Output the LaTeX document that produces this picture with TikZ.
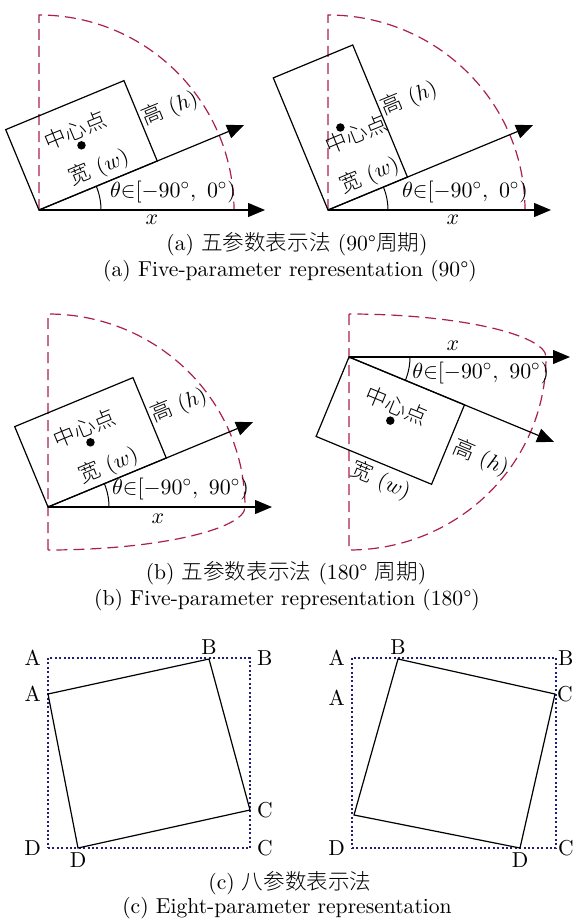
\documentclass[tikz,border=0pt]{standalone}
\usepackage{fontspec}
\usepackage{tikz}
\usetikzlibrary{arrows.meta,calc}
\newfontfamily\zhfont{Noto Sans CJK SC Light}
\definecolor{RangeRed}{HTML}{AA2048}
\definecolor{GridNavy}{HTML}{1F1F7A}

\begin{document}
\begin{tikzpicture}[x=0.5pt, y=0.5pt, font=\fontsize{10.8}{13}\selectfont,
    axisarrow/.style={line width=0.6pt, -{Triangle[length=8.5pt,width=7pt]}},
    rangeline/.style={RangeRed, line width=0.6pt, dash pattern=on 5.5pt off 3pt},
    bbox/.style={draw, line width=0.6pt, inner sep=0pt, outer sep=0pt},
    hbox/.style={draw, GridNavy, line width=0.6pt, dash pattern=on 1pt off 1.2pt, inner sep=0pt, outer sep=0pt},
    quadline/.style={line width=0.6pt},
    ctrdot/.style={circle, fill, inner sep=1.5pt}]
    \useasboundingbox (0,0) rectangle (573,-920);

    % (a) left
    \coordinate (aLO) at (39,-210);
    \coordinate (aLX) at ($(aLO)+(226,0)$);
    \coordinate (aLW) at ($(aLO)+(22.5:222)$);
    \draw [rangeline] (aLO) -- ++(0,195) arc (90:0:195);
    \node (aLBox) [bbox, rotate=22.5, minimum width=64pt, minimum height=43.5pt, anchor=south west] at (aLO) {};
    \draw [axisarrow] (aLO) -- node (aLx) [below, inner sep=2pt] {$x$} (aLX);
    \draw [axisarrow] (aLO) -- (aLW);
    \draw [line width=0.5pt] ($(aLO)+(62,0)$) arc (0:22.5:62);
    \node (aLC) [ctrdot] at (aLBox.center) {};
    \node (aLMid) [rotate=22.5, anchor=south, inner sep=3pt] at (aLBox.center) {\zhfont 中心点};
    \node (aLw) [rotate=22.5, anchor=south, inner sep=2pt] at ($(aLBox.south)!0.12!(aLBox.south east)$) {{\zhfont 宽} ($w$)};
    \node (aLh) [rotate=22.5, anchor=west, inner sep=1pt] at (aLBox.east) {{\zhfont 高} ($h$)};
    \node (aLT) [anchor=south west] at ($(aLO)+(64,0)$) {$\theta{\in}[-90^\circ,\ 0^\circ)$};

    % (a) right
    \coordinate (aRO) at (328,-210);
    \coordinate (aRX) at ($(aRO)+(223,0)$);
    \coordinate (aRW) at ($(aRO)+(22.5:222)$);
    \draw [rangeline] (aRO) -- ++(0,195) arc (90:0:197 and 195);
    \node (aRBox) [bbox, rotate=22.5, minimum width=43pt, minimum height=71.5pt, anchor=south west] at (aRO) {};
    \draw [axisarrow] (aRO) -- node (aRx) [below, inner sep=2pt, pos=0.56] {$x$} (aRX);
    \draw [axisarrow] (aRO) -- (aRW);
    \draw [line width=0.5pt] ($(aRO)+(60,0)$) arc (0:22.5:60);
    \node (aRC) [ctrdot] at (aRBox.center) {};
    \node (aRMid) [rotate=22.5, anchor=north, inner sep=1pt] at ($(aRBox.center)!0.28!(aRBox.east)$) {\zhfont 中心点};
    \node (aRw) [rotate=22.5, anchor=south, inner sep=2pt] at ($(aRBox.south)!0.2!(aRBox.south east)$) {{\zhfont 宽} ($w$)};
    \node (aRh) [rotate=22.5, anchor=west, inner sep=1pt] at (aRBox.east) {{\zhfont 高} ($h$)};
    \node (aRT) [anchor=south west] at ($(aRO)+(67,0)$) {$\theta{\in}[-90^\circ,\ 0^\circ)$};

    \node (aCapZh) at (297,-244) {(a) {\zhfont 五参数表示法} (90°{\zhfont 周期})};
    \node (aCapEn) at (290,-271) {(a) Five-parameter representation (90°)};

    % (b) left
    \coordinate (bLO) at (48,-507);
    \coordinate (bLlow) at ($(bLO)+(0,-43)$);
    \coordinate (bLX) at ($(bLO)+(224,0)$);
    \coordinate (bLW) at ($(bLO)+(22.5:222)$);
    \draw [rangeline] (bLlow) -- ++(0,236) arc (90:0:197 and 193) .. controls +(0,-22) and +(110,0) .. (bLlow);
    \node (bLBox) [bbox, rotate=22.5, minimum width=64pt, minimum height=43.5pt, anchor=south west] at (bLO) {};
    \draw [axisarrow] (bLO) -- node (bLx) [below, inner sep=3pt, pos=0.49] {$x$} (bLX);
    \draw [axisarrow] (bLO) -- (bLW);
    \draw [line width=0.5pt] ($(bLO)+(61,0)$) arc (0:22.5:61);
    \node (bLC) [ctrdot] at (bLBox.center) {};
    \node (bLMid) [rotate=22.5, anchor=south, inner sep=2.5pt] at (bLBox.center) {\zhfont 中心点};
    \node (bLw) [rotate=22.5, anchor=south, inner sep=1.5pt] at ($(bLBox.south)!0.12!(bLBox.south east)$) {{\zhfont 宽} ($w$)};
    \node (bLh) [rotate=22.5, anchor=west, inner sep=1pt] at (bLBox.east) {{\zhfont 高} ($h$)};
    \node (bLT) [anchor=south west] at ($(bLO)+(57,0)$) {$\theta{\in}[-90^\circ,\ 90^\circ)$};

    % (b) right
    \coordinate (bRO) at (349,-357);
    \coordinate (bRtop) at ($(bRO)+(0,43)$);
    \coordinate (bRX) at ($(bRO)+(221,0)$);
    \coordinate (bRW) at ($(bRO)+(-22.5:222)$);
    \draw [rangeline] (bRtop) -- ++(0,-236) arc (-90:0:197 and 193) .. controls +(0,22) and +(110,0) .. (bRtop);
    \node (bRBox) [bbox, rotate=-22.5, minimum width=62.5pt, minimum height=43pt, anchor=north west] at (bRO) {};
    \draw [axisarrow] (bRO) -- node (bRx) [above, inner sep=3pt, pos=0.47] {$x$} (bRX);
    \draw [axisarrow] (bRO) -- (bRW);
    \draw [line width=0.5pt] ($(bRO)+(61,0)$) arc (0:-22.5:61);
    \node (bRC) [ctrdot] at (bRBox.center) {};
    \node (bRMid) [rotate=-22.5, anchor=south, inner sep=3pt] at (bRBox.center) {\zhfont 中心点};
    \node (bRw) [rotate=-22.5, anchor=north, inner sep=2pt] at ($(bRBox.south)!0.23!(bRBox.south east)$) {{\zhfont 宽} ($w$)};
    \node (bRh) [rotate=-22.5, anchor=west, inner sep=3pt] at (bRBox.east) {{\zhfont 高} ($h$)};
    \node (bRT) [anchor=north west, inner sep=2.5pt] at ($(bRO)+(58,0)$) {$\theta{\in}[-90^\circ,\ 90^\circ)$};

    \node (bCapZh) at (286,-573) {(b) {\zhfont 五参数表示法} (180° {\zhfont 周期})};
    \node (bCapEn) at (287,-600) {(b) Five-parameter representation (180°)};

    % (c) left
    \node (cLSq) [hbox, minimum width=101pt, minimum height=95pt, anchor=north west] at (48,-658) {};
    \coordinate (cLa) at (48,-694);
    \coordinate (cLb) at (209,-659);
    \coordinate (cLc) at (250,-810);
    \coordinate (cLd) at (78,-848);
    \draw [quadline] (cLa) -- (cLb) -- (cLc) -- (cLd) -- cycle;
    \node (cLA1) [left] at (cLSq.north west) {A};
    \node (cLB1) [right] at (cLSq.north east) {B};
    \node (cLC1) [right] at (cLSq.south east) {C};
    \node (cLD1) [left] at (cLSq.south west) {D};
    \node (cLA2) [left] at (cLa) {A};
    \node (cLB2) [above, inner sep=2pt] at (cLb) {B};
    \node (cLC2) [right] at (cLc) {C};
    \node (cLD2) [below, inner sep=2pt] at (cLd) {D};

    % (c) right
    \node (cRSq) [hbox, minimum width=102pt, minimum height=95pt, anchor=north west] at (352,-658) {};
    \coordinate (cRa) at (354,-815);
    \coordinate (cRb) at (398,-659);
    \coordinate (cRc) at (555,-694);
    \coordinate (cRd) at (520,-848);
    \coordinate (cRal) at (352,-698);
    \draw [quadline] (cRa) -- (cRb) -- (cRc) -- (cRd) -- cycle;
    \node (cRA1) [left] at (cRSq.north west) {A};
    \node (cRB1) [right, inner sep=0.8pt] at (cRSq.north east) {B};
    \node (cRC1) [right, inner sep=0.8pt] at (cRSq.south east) {C};
    \node (cRD1) [left] at (cRSq.south west) {D};
    \node (cRA2) [left] at (cRal) {A};
    \node (cRB2) [above, inner sep=2pt] at (cRb) {B};
    \node (cRC2) [right, inner sep=0.8pt] at (cRc) {C};
    \node (cRD2) [below, inner sep=2pt] at (cRd) {D};

    \node (cCapZh) at (290,-883) {(c) {\zhfont 八参数表示法}};
    \node (cCapEn) at (287,-908) {(c) Eight-parameter representation};
\end{tikzpicture}
\end{document}
